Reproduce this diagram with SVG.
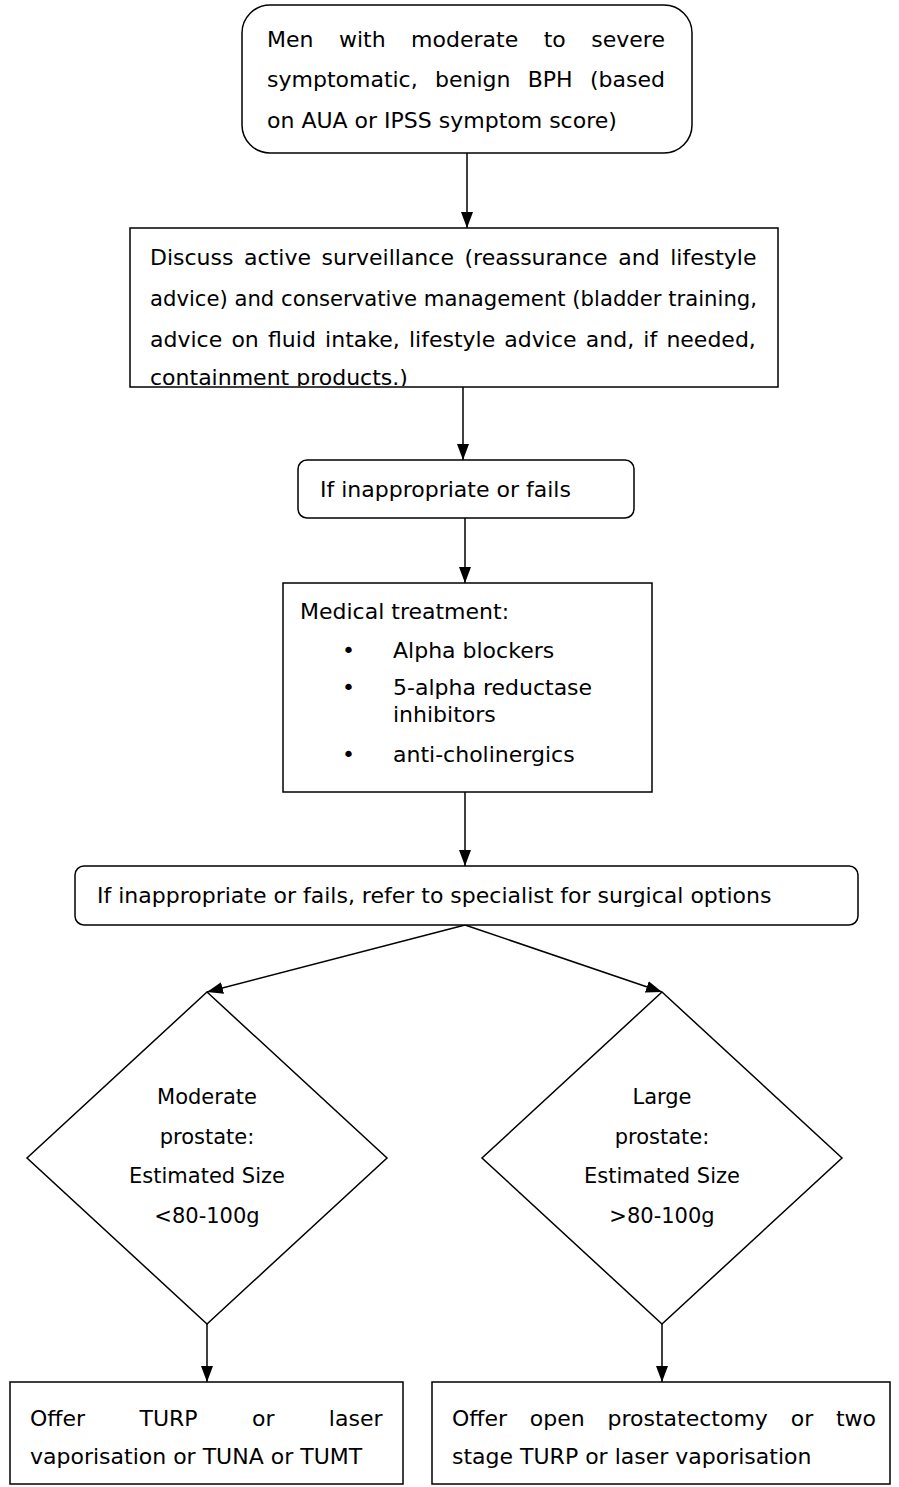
<svg xmlns="http://www.w3.org/2000/svg" width="899" height="1487" viewBox="0 0 899 1487">
<style>
text{font-family:"DejaVu Sans","Liberation Sans",sans-serif;font-size:22px;fill:#000}
.d{font-size:21px;text-anchor:middle}
.box{fill:#fff;stroke:#000;stroke-width:1.5}
.c{fill:none;stroke:#000;stroke-width:1.5}
</style>
<defs>
<marker id="ah" viewBox="0 0 16 12" refX="16" refY="6" markerWidth="16" markerHeight="12" markerUnits="userSpaceOnUse" orient="auto">
<path d="M0,0 L16,6 L0,12 z" fill="#000"/>
</marker>
<clipPath id="clip2"><rect x="130" y="228" width="648" height="158"/></clipPath>
</defs>
<g id="connectors">
<line class="c" x1="467" y1="153" x2="467" y2="228" marker-end="url(#ah)"/>
<line class="c" x1="463" y1="387" x2="463" y2="460" marker-end="url(#ah)"/>
<line class="c" x1="465" y1="518" x2="465" y2="583" marker-end="url(#ah)"/>
<line class="c" x1="465" y1="792" x2="465" y2="866" marker-end="url(#ah)"/>
<line class="c" x1="465" y1="925" x2="207" y2="992" marker-end="url(#ah)"/>
<line class="c" x1="465" y1="925" x2="662" y2="992" marker-end="url(#ah)"/>
<line class="c" x1="207" y1="1324" x2="207" y2="1382" marker-end="url(#ah)"/>
<line class="c" x1="662" y1="1324" x2="662" y2="1382" marker-end="url(#ah)"/>
</g>
<g id="start">
<rect class="box" x="242" y="5" width="450" height="148" rx="28"/>
<text x="267" y="47" style="word-spacing:18.5px">Men with moderate to severe</text>
<text x="267" y="87" style="word-spacing:10.3px">symptomatic, benign BPH (based</text>
<text x="267" y="128">on AUA or IPSS symptom score)</text>
</g>
<g id="discuss">
<rect class="box" x="130" y="228" width="648" height="159"/>
<g clip-path="url(#clip2)">
<text x="150" y="265" style="word-spacing:3.6px">Discuss active surveillance (reassurance and lifestyle</text>
<text x="150" y="306" textLength="607" lengthAdjust="spacingAndGlyphs">advice) and conservative management (bladder training,</text>
<text x="150" y="347" style="word-spacing:2.2px">advice on fluid intake, lifestyle advice and, if needed,</text>
<text x="150" y="385">containment products.)</text>
</g>
</g>
<g id="fails1">
<rect class="box" x="298" y="460" width="336" height="58" rx="9"/>
<text x="320" y="497">If inappropriate or fails</text>
</g>
<g id="medical">
<rect class="box" x="283" y="583" width="369" height="209"/>
<text x="300" y="619">Medical treatment:</text>
<text x="342" y="658">•</text><text x="393" y="658">Alpha blockers</text>
<text x="342" y="695">•</text><text x="393" y="695">5-alpha reductase</text>
<text x="393" y="722">inhibitors</text>
<text x="342" y="762">•</text><text x="393" y="762">anti-cholinergics</text>
</g>
<g id="fails2">
<rect class="box" x="75" y="866" width="783" height="59" rx="9"/>
<text x="97" y="903">If inappropriate or fails, refer to specialist for surgical options</text>
</g>
<g id="moderate">
<polygon class="box" points="207,992 387,1158 207,1324 27,1158"/>
<text class="d" x="207" y="1104">Moderate</text>
<text class="d" x="207" y="1144">prostate:</text>
<text class="d" x="207" y="1183">Estimated Size</text>
<text class="d" x="207" y="1223">&lt;80-100g</text>
</g>
<g id="large">
<polygon class="box" points="662,992 842,1158 662,1324 482,1158"/>
<text class="d" x="662" y="1104">Large</text>
<text class="d" x="662" y="1144">prostate:</text>
<text class="d" x="662" y="1183">Estimated Size</text>
<text class="d" x="662" y="1223">&gt;80-100g</text>
</g>
<g id="turp">
<rect class="box" x="10" y="1382" width="393" height="102"/>
<text x="30" y="1426" style="word-spacing:47.4px">Offer TURP or laser</text>
<text x="30" y="1464">vaporisation or TUNA or TUMT</text>
</g>
<g id="open">
<rect class="box" x="432" y="1382" width="458" height="102"/>
<text x="452" y="1426" style="word-spacing:15.8px">Offer open prostatectomy or two</text>
<text x="452" y="1464">stage TURP or laser vaporisation</text>
</g>
</svg>
